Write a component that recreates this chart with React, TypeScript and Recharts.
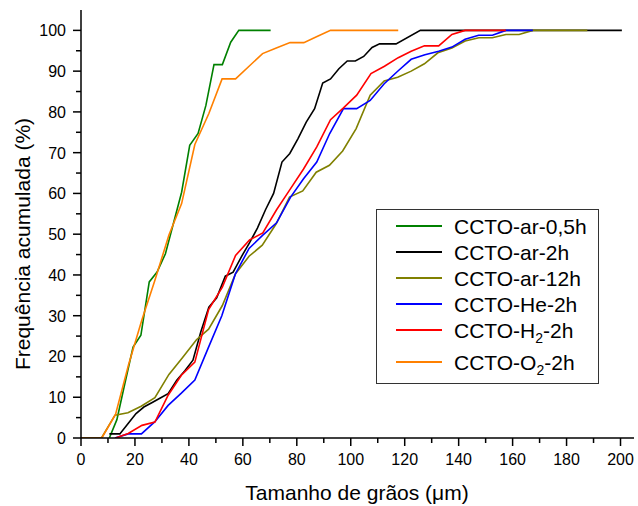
import { LineChart, Line, XAxis, YAxis, Legend, Label } from 'recharts';

// grain size (µm) / cumulative frequency (%)
const sizesAr05h = [10.5, 13.3, 16.3, 19.3, 22.2, 25.3, 28.2, 31.3, 34.4, 37.3, 40.3, 43.4, 46.3, 49.3, 52.4, 55.5, 58.5, 70.3];
const freqAr05h = [0, 4.5, 13.5, 22.3, 25.2, 38.3, 40.7, 45.2, 53, 60.3, 71.8, 74.7, 81.6, 91.6, 91.6, 97.1, 100, 100];

const sizesAr2h = [10.5, 14.4, 17.4, 20.4, 23.3, 26.4, 29.4, 32.3, 35.5, 38.5, 41.5, 44.4, 47.4, 50.3, 53.5, 56.4, 59.4, 62.4, 65.4, 68.4, 71.4, 74.5, 77.4, 80.4, 83.5, 86.6, 89.6, 92.5, 95.6, 98.7, 101.7, 104.8, 107.9, 110.7, 113.8, 116.8, 125.8, 200.5];
const freqAr2h = [1, 1, 3.5, 6, 7.6, 8.7, 9.8, 10.9, 14.2, 16.5, 19.1, 26, 32.1, 34.4, 39.7, 40.7, 44.4, 47.8, 51.5, 56, 60, 67.7, 69.8, 73.4, 77.5, 80.8, 87.1, 88.1, 90.6, 92.5, 92.5, 93.6, 95.8, 96.7, 96.7, 96.7, 100, 100];

const sizesAr12h = [0, 7.6, 12.6, 17.4, 22.3, 27.4, 32.6, 37.6, 42.8, 47.3, 52.4, 57.3, 62.3, 67.2, 72.3, 77.3, 82.2, 87.2, 92.1, 97, 102, 107.2, 112.4, 117.4, 122.4, 127.3, 132.3, 137.5, 142.4, 147.5, 152.5, 157.5, 162.4, 167.5, 187.7];
const freqAr12h = [0, 0, 5.6, 6.2, 7.8, 9.9, 15.6, 19.7, 24.1, 26.7, 32.5, 40.3, 44.6, 47.3, 52.5, 59.1, 60.6, 65.2, 66.9, 70.4, 75.9, 84.1, 87.6, 88.5, 90, 91.8, 94.5, 95.7, 97.4, 98.2, 98.2, 99, 99, 100, 100];

const sizesHe2h = [12.6, 17.5, 22.4, 27.4, 32.3, 37.2, 42.2, 47.1, 52.2, 57.2, 62.3, 67.3, 72.5, 77.7, 82.5, 87.4, 92.2, 97.3, 102.2, 107.2, 112.4, 117.6, 122.4, 127.5, 132.6, 137.5, 142.4, 147.4, 152.5, 157.5, 167.5];
const freqHe2h = [0, 1, 1, 4, 8, 11, 14.2, 22, 30, 40.2, 46.5, 49.7, 52.8, 59.1, 63.6, 67.7, 74.7, 80.8, 80.8, 82.8, 86.9, 90.1, 92.9, 94, 94.9, 95.9, 97.8, 98.8, 98.8, 100, 100];

const sizesH22h = [12.8, 17.5, 22.6, 27.4, 32.3, 37.2, 42.2, 47.3, 52.4, 57.3, 62.5, 67.4, 72.5, 77.5, 82.5, 87.4, 92.5, 97.3, 102.2, 107.5, 112.5, 117.6, 122.4, 127.3, 132.6, 137.5, 142.4, 157.5];
const freqH22h = [0, 1.1, 3.1, 3.9, 10.5, 15.4, 18.6, 31.5, 37, 44.8, 48.6, 50.3, 56, 61, 66, 71.4, 78.1, 81, 84.1, 89.4, 91.2, 93.3, 94.9, 96.2, 96.2, 99, 100, 100];

const sizesO22h = [0, 7.7, 12.8, 17.6, 22.5, 27.4, 32.6, 37.3, 42.2, 47.4, 52.3, 57.3, 62.3, 67.3, 72.4, 77.5, 82.6, 87.5, 92.5, 117.6];
const freqO22h = [0, 0, 5.8, 17.9, 28.8, 38.7, 49.8, 57.5, 72, 79.6, 88.1, 88.1, 91.2, 94.3, 95.7, 97, 97, 98.5, 100, 100];

const seriesNames = ['CCTO-ar-0,5h', 'CCTO-ar-2h', 'CCTO-ar-12h', 'CCTO-He-2h', 'CCTO-H₂-2h', 'CCTO-O₂-2h'];
const seriesColors = ['#008000', '#000000', '#808000', '#0000ff', '#ff0000', '#ff8000'];

const xTicks = [0, 10, 20, 30, 40, 50, 60, 70, 80, 90, 100, 110, 120, 130, 140, 150, 160, 170, 180, 190, 200];
const yTicks = [0, 5, 10, 15, 20, 25, 30, 35, 40, 45, 50, 55, 60, 65, 70, 75, 80, 85, 90, 95, 100];

const FONT = '"Liberation Sans", Arial, sans-serif';

const zip = (xs: number[], ys: number[]) => xs.map((x, i) => ({ size: x, freq: ys[i] }));

const series = [
  zip(sizesAr05h, freqAr05h),
  zip(sizesAr2h, freqAr2h),
  zip(sizesAr12h, freqAr12h),
  zip(sizesHe2h, freqHe2h),
  zip(sizesH22h, freqH22h),
  zip(sizesO22h, freqO22h),
].map((data, i) => ({ name: seriesNames[i], color: seriesColors[i], data }));

function BottomTick({ x, y, payload }: any) {
  const major = payload.value % 20 === 0;
  return (
    <g>
      <line x1={x} x2={x} y1={y} y2={y + (major ? 8 : 5)} stroke="#000" strokeWidth={1.5} />
      {major && (
        <text x={x} y={y + 27} textAnchor="middle" fontSize={16} fontFamily={FONT} fill="#000">
          {payload.value}
        </text>
      )}
    </g>
  );
}

function LeftTick({ x, y, payload }: any) {
  const major = payload.value % 10 === 0;
  return (
    <g>
      <line x1={x - (major ? 8 : 5)} x2={x} y1={y} y2={y} stroke="#000" strokeWidth={1.5} />
      {major && (
        <text x={x - 15} y={y + 6} textAnchor="end" fontSize={16} fontFamily={FONT} fill="#000">
          {payload.value}
        </text>
      )}
    </g>
  );
}

function TopTick({ x, y }: any) {
  return <line x1={x} x2={x} y1={y} y2={y - 3} stroke="#000" strokeWidth={1.5} />;
}

function RightTick({ x, y }: any) {
  return <line x1={x} x2={x + 3} y1={y} y2={y} stroke="#000" strokeWidth={1.5} />;
}

function renderName(name: string) {
  const parts = name.split('₂');
  if (parts.length === 1) return name;
  return (
    <>
      {parts[0]}
      <sub style={{ fontSize: 14, verticalAlign: 'sub', lineHeight: 0 }}>2</sub>
      {parts[1]}
    </>
  );
}

const rowHeights = [26, 26, 26, 26, 26, 38];

function LegendBox() {
  return (
    <div
      style={{
        width: 223,
        height: 175,
        boxSizing: 'border-box',
        border: '1px solid #333',
        background: '#fff',
        paddingTop: 3,
        fontFamily: FONT,
        fontSize: 21,
        color: '#000',
      }}
    >
      {series.map((s, i) => (
        <div key={s.name} style={{ height: rowHeights[i], display: 'flex', alignItems: 'center' }}>
          <span
            style={{ width: 46, height: 0, borderTop: `2px solid ${s.color}`, marginLeft: 19, marginRight: 12 }}
          />
          <span style={{ lineHeight: '21px', whiteSpace: 'nowrap' }}>{renderName(s.name)}</span>
        </div>
      ))}
    </div>
  );
}

export default function App() {
  return (
    <div style={{ position: 'absolute', left: 0, top: 0, width: 638, height: 506, background: '#fff' }}>
      <LineChart width={638} height={506} margin={{ top: 10, right: 4, bottom: 0, left: 0 }}>
        <XAxis
          dataKey="size"
          type="number"
          domain={[0, 205]}
          ticks={xTicks}
          interval={0}
          height={68}
          tickSize={0}
          tickMargin={0}
          tick={<BottomTick />}
          axisLine={{ stroke: '#000', strokeWidth: 1.5 }}
          allowDataOverflow
        >
          <Label
            content={() => (
              <text x={357} y={500} textAnchor="middle" fontSize={21} fontFamily={FONT} fill="#000">
                Tamanho de grãos (μm)
              </text>
            )}
          />
        </XAxis>
        <XAxis
          xAxisId="top"
          orientation="top"
          type="number"
          domain={[0, 205]}
          ticks={xTicks}
          interval={0}
          height={0}
          tickSize={0}
          tickMargin={0}
          tick={<TopTick />}
          axisLine={{ stroke: '#000', strokeWidth: 1.5 }}
          allowDataOverflow
        />
        <YAxis
          type="number"
          domain={[0, 105]}
          ticks={yTicks}
          interval={0}
          width={81}
          tickSize={0}
          tickMargin={0}
          tick={<LeftTick />}
          axisLine={{ stroke: '#000', strokeWidth: 1.5 }}
          allowDataOverflow
        >
          <Label
            content={() => (
              <text
                x={22}
                y={244}
                transform="rotate(-90 22 244)"
                textAnchor="middle"
                dominantBaseline="central"
                fontSize={21}
                fontFamily={FONT}
                fill="#000"
              >
                Frequência acumulada (%)
              </text>
            )}
          />
        </YAxis>
        <YAxis
          yAxisId="right"
          orientation="right"
          type="number"
          domain={[0, 105]}
          ticks={yTicks}
          interval={0}
          width={0}
          tickSize={0}
          tickMargin={0}
          tick={<RightTick />}
          axisLine={{ stroke: '#000', strokeWidth: 1.5 }}
          allowDataOverflow
        />
        <Legend
          layout="horizontal"
          verticalAlign="middle"
          align="center"
          wrapperStyle={{ left: 376, top: 209, width: 223 }}
          content={() => <LegendBox />}
        />
        {series.map((s) => (
          <Line
            key={s.name}
            data={s.data}
            dataKey="freq"
            name={s.name}
            type="linear"
            stroke={s.color}
            strokeWidth={1.6}
            dot={false}
            activeDot={false}
            isAnimationActive={false}
          />
        ))}
      </LineChart>
    </div>
  );
}
